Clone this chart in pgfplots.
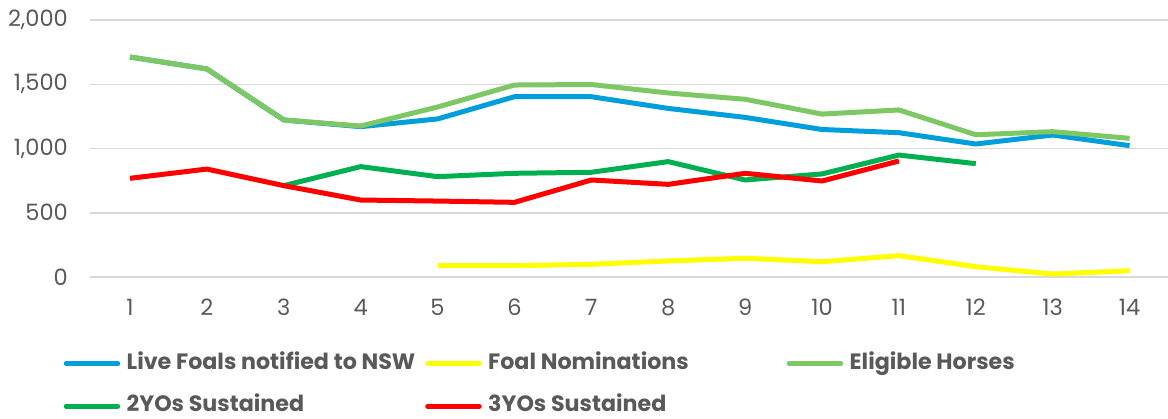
\documentclass[border=0pt]{standalone}
\usepackage{pgfplots}
\pgfplotsset{compat=1.18}
\usepackage{fontspec}
\setmainfont{Poppins}
\definecolor{cblue}{RGB}{0,158,219}
\definecolor{cyellow}{RGB}{255,255,0}
\definecolor{clgreen}{RGB}{125,199,101}
\definecolor{cdgreen}{RGB}{0,176,80}
\definecolor{cred}{RGB}{255,0,0}
\definecolor{ctext}{RGB}{89,89,89}
\definecolor{cgrid}{RGB}{217,217,217}
\begin{document}
\begin{tikzpicture}
\begin{axis}[
  scale only axis, width=1078bp, height=257bp,
  at={(0,0)}, anchor=south west,
  xmin=0.48, xmax=14.5, ymin=0, ymax=2000,
  xtick={1,...,14}, ytick={0,500,1000,1500,2000},
  major tick length=0pt,
  axis line style={draw=none},
  ymajorgrids, major grid style={cgrid, line width=1.5bp},
  /pgf/number format/assume math mode=true,
  /pgf/number format/1000 sep={,},
  ticklabel style={font=\fontsize{22.5bp}{26bp}\selectfont, text=ctext, inner sep=0pt},
  yticklabel style={xshift=-22bp},
  xticklabel style={yshift=-22bp},
  legend columns=3,
  legend cell align=left,
  legend style={draw=none, fill=none, inner sep=0pt, at={(axis description cs:0,0)}, anchor=north west, xshift=-29bp, yshift=-76bp,
    font=\bfseries\fontsize{22.2bp}{26bp}\selectfont, text=ctext,
    nodes={inner sep=0pt, text height=16bp, text depth=5bp}, row sep=21.5bp, column sep=0pt},
  legend image code/.code={\path (0bp,0bp) (60.5bp,0bp); \draw[#1, line width=5bp, line cap=round] (2.5bp,0bp) -- (54bp,0bp);},
  every axis plot/.append style={line width=5bp, line join=round},
]
\addplot[cblue] coordinates {(1,1712) (2,1619) (3,1222) (4,1170) (5,1230) (6,1403) (7,1403) (8,1312) (9,1242) (10,1148) (11,1123) (12,1035) (13,1105) (14,1022)};
\addlegendentry{\makebox[296bp][l]{Live Foals notified to NSW}}
\addplot[cyellow] coordinates {(5,88) (6,88) (7,99) (8,125) (9,146) (10,119) (11,166) (12,80) (13,23) (14,49)};
\addlegendentry{\makebox[296bp][l]{Foal Nominations}}
\addplot[clgreen] coordinates {(1,1712) (2,1619) (3,1222) (4,1175) (5,1323) (6,1494) (7,1498) (8,1432) (9,1383) (10,1268) (11,1300) (12,1107) (13,1131) (14,1079)};
\addlegendentry{\makebox[296bp][l]{Eligible Horses}}
\addplot[cdgreen] coordinates {(3,711) (4,859) (5,781) (6,807) (7,815) (8,898) (9,755) (10,802) (11,949) (12,882)};
\addlegendentry{\makebox[296bp][l]{2YOs Sustained}}
\addplot[cred] coordinates {(1,768) (2,840) (3,711) (4,599) (5,591) (6,581) (7,755) (8,721) (9,807) (10,747) (11,903)};
\addlegendentry{\makebox[296bp][l]{3YOs Sustained}}
\end{axis}
\pgfresetboundingbox
\path (-90bp,-142bp) rectangle (1078bp,277bp);
\end{tikzpicture}
\end{document}
